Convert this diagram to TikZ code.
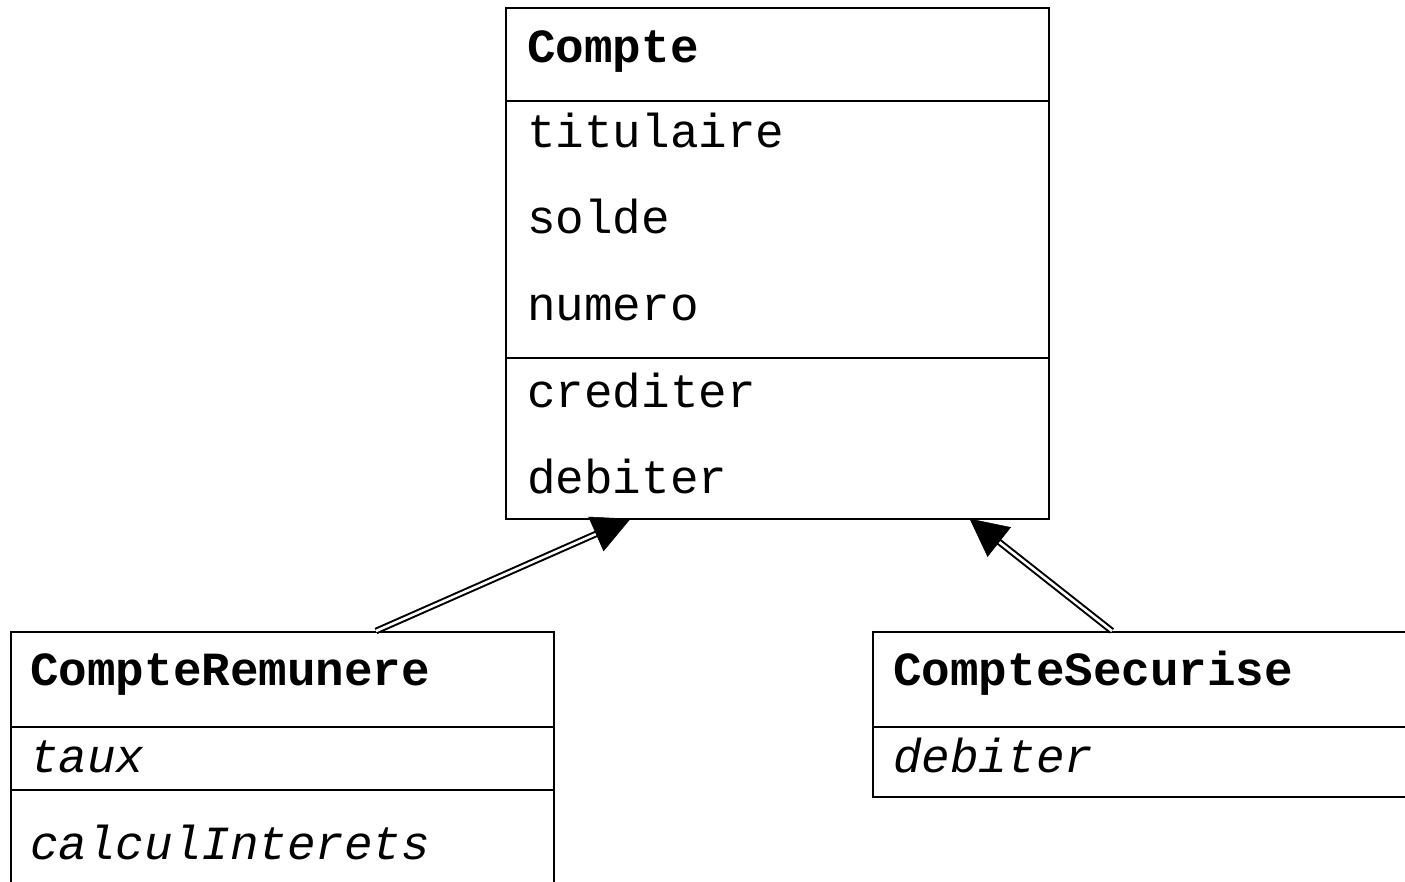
\documentclass[tikz,border=0pt]{standalone}
\usepackage{fontspec}
\setmainfont{Liberation Mono}
\usetikzlibrary{calc}
\tikzset{
  classbox/.style={draw=black, line width=1.5pt, fill=white},
  divider/.style={draw=black, line width=1.5pt},
  member/.style={anchor=base west, inner sep=0pt, font=\fontsize{47.6}{56}\selectfont},
  classname/.style={member, font=\fontsize{47.6}{56}\selectfont\bfseries},
  abstractmember/.style={member, font=\fontsize{47.6}{56}\selectfont\itshape},
  inheritshaft/.style={draw=black, line width=2pt, double=white, double distance=2.6pt},
  inherithead/.style={fill=black, draw=black, line width=0.5pt, line join=miter}
}
% filled triangular head: tip #1, shaft coming from #2
\newcommand{\genhead}[2]{%
  \coordinate (hb) at ($(#1)!37pt!(#2)$);
  \fill[inherithead] (#1) -- ($(hb)!18.5pt!90:(#1)$) -- ($(hb)!18.5pt!-90:(#1)$) -- cycle;
}
\begin{document}
\begin{tikzpicture}[x=1pt, y=-1pt]
  \clip (0,0) rectangle (1405,881);
  \fill[white] (0,0) rectangle (1405,881);

  % Compte
  \node[classbox, inner sep=0pt, minimum width=543pt, minimum height=511pt, anchor=north west] (compte) at (505,7) {};
  \draw[divider] (505,101) -- (1048,101);
  \draw[divider] (505,358) -- (1048,358);
  \node[classname] (cName) at (527,62) {Compte};
  \node[member] (cA1) at (527,147) {titulaire};
  \node[member] (cA2) at (527,233) {solde};
  \node[member] (cA3) at (527,320) {numero};
  \node[member] (cM1) at (527,407) {crediter};
  \node[member] (cM2) at (527,493) {debiter};

  % CompteRemunere
  \node[classbox, inner sep=0pt, minimum width=543pt, minimum height=270pt, anchor=north west] (remun) at (10,631) {};
  \draw[divider] (10,727) -- (553,727);
  \draw[divider] (10,790) -- (553,790);
  \node[classname] (rName) at (30,685) {CompteRemunere};
  \node[abstractmember] (rA1) at (30,772) {taux};
  \node[abstractmember] (rM1) at (30,859) {calculInterets};

  % CompteSecurise
  \node[classbox, inner sep=0pt, minimum width=560pt, minimum height=165pt, anchor=north west] (secur) at (872,631) {};
  \draw[divider] (872,727) -- (1432,727);
  \node[classname] (sName) at (893,685) {CompteSecurise};
  \node[abstractmember] (sM1) at (893,772) {debiter};

  % Inheritance arrows
  \coordinate (r0) at (376,631);
  \coordinate (r1) at (630,519);
  \coordinate (s0) at (1112,631);
  \coordinate (s1) at (970,519);
  \draw[inheritshaft] (r0) -- ($(r1)!31pt!(r0)$);
  \genhead{r1}{r0}
  \draw[inheritshaft] (s0) -- ($(s1)!31pt!(s0)$);
  \genhead{s1}{s0}
\end{tikzpicture}
\end{document}
